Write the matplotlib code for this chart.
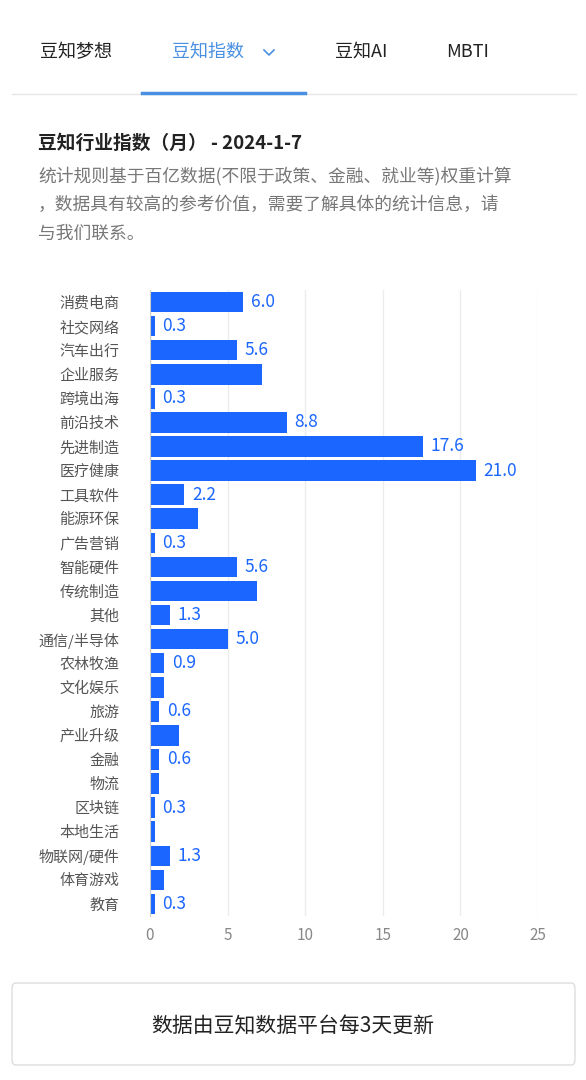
import matplotlib.pyplot as plt
from matplotlib.patches import FancyBboxPatch
from matplotlib.lines import Line2D

plt.rcParams['font.family'] = ['Noto Sans CJK SC', 'DejaVu Sans']

categories = ['消费电商', '社交网络', '汽车出行', '企业服务', '跨境出海', '前沿技术', '先进制造',
              '医疗健康', '工具软件', '能源环保', '广告营销', '智能硬件', '传统制造', '其他',
              '通信/半导体', '农林牧渔', '文化娱乐', '旅游', '产业升级', '金融', '物流',
              '区块链', '本地生活', '物联网/硬件', '体育游戏', '教育']
values = [6.0, 0.3, 5.6, 7.2, 0.3, 8.8, 17.6, 21.0, 2.2, 3.1, 0.3, 5.6, 6.9, 1.3,
          5.0, 0.9, 0.9, 0.6, 1.9, 0.6, 0.6, 0.3, 0.3, 1.3, 0.9, 0.3]
show_label = [1, 1, 1, 0, 1, 1, 1, 1, 1, 0, 1, 1, 0, 1,
              1, 1, 0, 1, 0, 1, 0, 1, 0, 1, 0, 1]
xticks = [0, 5, 10, 15, 20, 25]

W, H = 586, 1080
fig = plt.figure(figsize=(W / 100, H / 100), dpi=100)
fig.patch.set_facecolor('white')

def fy(y):
    return 1 - y / H

# header tabs
tabs = [('豆知梦想', 76, '#222222'), ('豆知指数', 208, '#4a90e2'), ('豆知AI', 361, '#222222'), ('MBTI', 468, '#222222')]
for t, x, c in tabs:
    fig.text(x / W, fy(52), t, ha='center', va='center', fontsize=13, color=c)
# dropdown chevron drawn as a shape
fig.add_artist(Line2D([264 / W, 269 / W, 274 / W], [fy(50), fy(55), fy(50)], color='#4a90e2', lw=1.2))
fig.add_artist(Line2D([12 / W, 576 / W], [fy(94), fy(94)], color='#e6e6e6', lw=1))
fig.add_artist(Line2D([142 / W, 305 / W], [fy(93), fy(93)], color='#4a90e2', lw=2.5))

fig.text(38 / W, fy(143), '豆知行业指数（月） - 2024-1-7', ha='left', va='center',
         fontsize=13.5, fontweight='bold', color='#222222')
desc = ['统计规则基于百亿数据(不限于政策、金融、就业等)权重计算',
        '，数据具有较高的参考价值，需要了解具体的统计信息，请',
        '与我们联系。']
for i, line in enumerate(desc):
    fig.text(38 / W, fy(176 + 29 * i), line, ha='left', va='center', fontsize=12.8, color='#777777')

# chart
ax = fig.add_axes([150 / W, fy(916), (538 - 150) / W, (916 - 290) / H])
y = list(range(len(categories)))
ax.barh(y, values, height=0.85, color='#1a66ff')
for yi, v, s in zip(y, values, show_label):
    if s:
        ax.text(v + 0.5, yi, f'{v:.1f}', va='center', ha='left', fontsize=12.5, color='#1a66ff')
ax.set_yticks(y)
ax.set_yticklabels(categories, fontsize=10.8, color='#555555')
ax.set_ylim(len(categories) - 0.5, -0.5)
ax.set_xlim(0, 25)
ax.set_xticks(xticks)
ax.set_xticklabels([str(t) for t in xticks], fontsize=11, color='#888888')
ax.grid(axis='x', color='#ececec', lw=1)
ax.set_axisbelow(True)
for s in ['top', 'right', 'bottom']:
    ax.spines[s].set_visible(False)
ax.spines['left'].set_color('#cccccc')
ax.tick_params(axis='both', length=0, pad=8)
ax.tick_params(axis='y', pad=22)

# footer box
box = FancyBboxPatch((12 / W, fy(1065)), (575 - 12) / W, (1065 - 983) / H,
                     boxstyle='round,pad=0,rounding_size=0.006', transform=fig.transFigure,
                     facecolor='white', edgecolor='#dddddd', lw=1)
fig.add_artist(box)
fig.text(293 / W, fy(1026), '数据由豆知数据平台每3天更新', ha='center', va='center', fontsize=15, color='#222222')

fig.savefig('out.png', dpi=100)
